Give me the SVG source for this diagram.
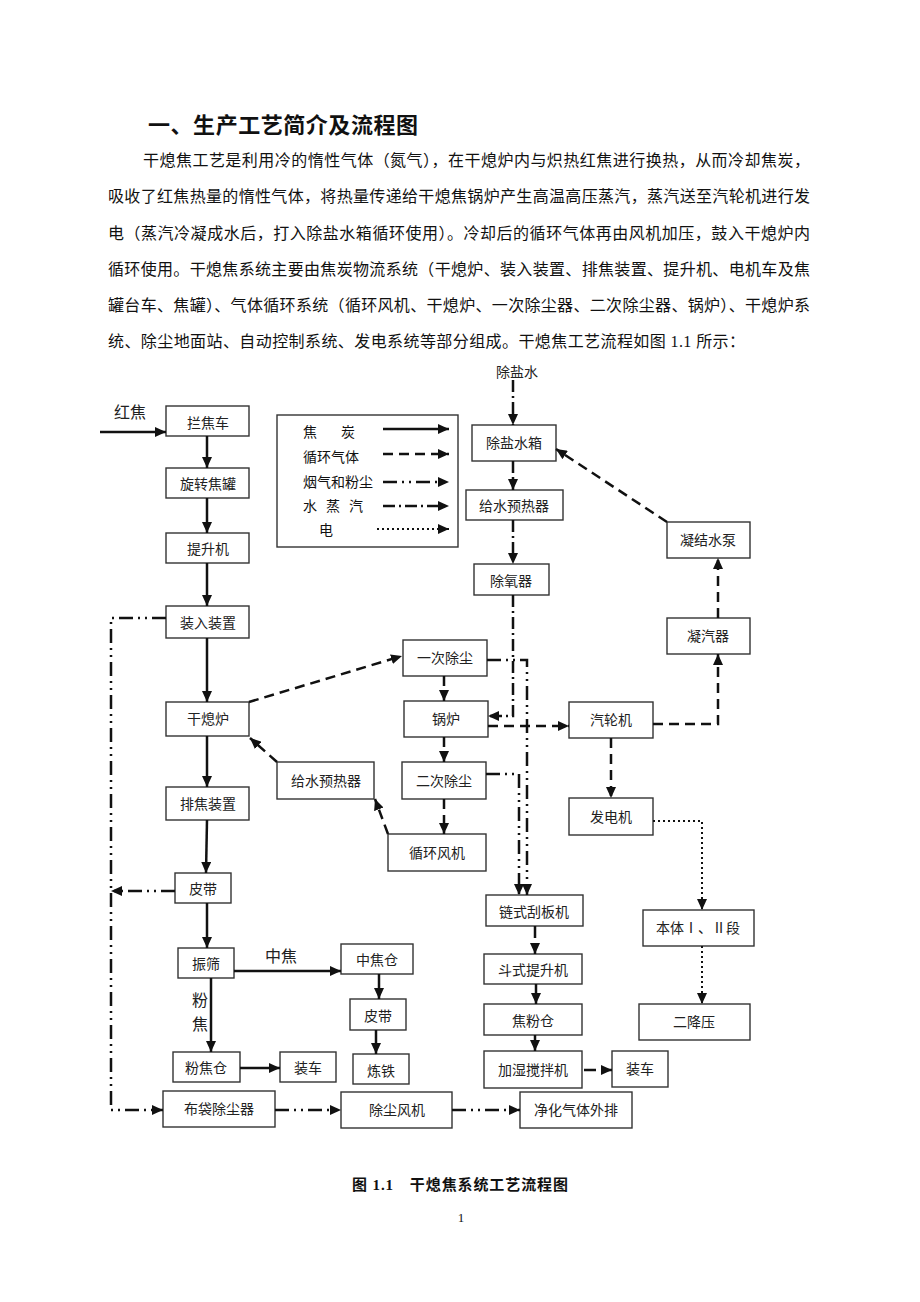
<svg xmlns="http://www.w3.org/2000/svg" width="920" height="1302" viewBox="0 0 920 1302">
<style>
.bg{fill:#fff}
.t{font-family:"Liberation Serif","Noto Sans CJK SC",serif;fill:#111}
.p{font-size:16px}
.n rect{fill:#fff;stroke:#333;stroke-width:1.4}
.n text{font-family:"Liberation Serif","Noto Sans CJK SC",serif;font-size:14px;fill:#222;text-anchor:middle;dominant-baseline:central}
.lb{font-family:"Liberation Serif","Noto Sans CJK SC",serif;font-size:14px;fill:#222;text-anchor:middle;dominant-baseline:central}
.c path{fill:none;stroke:#111;stroke-width:2.5}
.solid{marker-end:url(#ah)}
.dash{stroke-dasharray:10 6;marker-end:url(#ah)}
.dd{stroke-dasharray:14 5 2 5 2 5;marker-end:url(#ah)}
.dt{stroke-dasharray:12 4 2 4;marker-end:url(#ah)}
.el{stroke-dasharray:2 3;stroke-width:2!important;marker-end:url(#ah)}
</style>
<defs>
<marker id="ah" markerUnits="userSpaceOnUse" markerWidth="11" markerHeight="10" refX="11" refY="5" orient="auto">
<path d="M0,0 L11,5 L0,10 z" fill="#111"/>
</marker>
</defs>
<rect class="bg" x="0" y="0" width="920" height="1302"/>

<g id="text-body" class="t">
<text x="148" y="133" font-size="22" font-weight="bold" textLength="270" lengthAdjust="spacing">一、生产工艺简介及流程图</text>
<text class="p" x="143" y="166" textLength="667" lengthAdjust="spacing">干熄焦工艺是利用冷的惰性气体（氮气），在干熄炉内与炽热红焦进行换热，从而冷却焦炭，</text>
<text class="p" x="108" y="202" textLength="702" lengthAdjust="spacing">吸收了红焦热量的惰性气体，将热量传递给干熄焦锅炉产生高温高压蒸汽，蒸汽送至汽轮机进行发</text>
<text class="p" x="108" y="239" textLength="702" lengthAdjust="spacing">电（蒸汽冷凝成水后，打入除盐水箱循环使用）。冷却后的循环气体再由风机加压，鼓入干熄炉内</text>
<text class="p" x="108" y="275" textLength="702" lengthAdjust="spacing">循环使用。干熄焦系统主要由焦炭物流系统（干熄炉、装入装置、排焦装置、提升机、电机车及焦</text>
<text class="p" x="108" y="311" textLength="702" lengthAdjust="spacing">罐台车、焦罐）、气体循环系统（循环风机、干熄炉、一次除尘器、二次除尘器、锅炉）、干熄炉系</text>
<text class="p" x="108" y="347" textLength="637" lengthAdjust="spacing">统、除尘地面站、自动控制系统、发电系统等部分组成。干熄焦工艺流程如图 1.1 所示：</text>
<text x="460" y="1190" font-size="15" font-weight="bold" text-anchor="middle" textLength="216" lengthAdjust="spacing">图 1.1　干熄焦系统工艺流程图</text>
<text x="461" y="1222" font-size="13" text-anchor="middle">1</text>
</g>

<g id="legend">
<rect x="277" y="415" width="181" height="132" fill="none" stroke="#333" stroke-width="1.4"/>
<g class="t" font-size="14">
<text y="437"><tspan x="303">焦</tspan><tspan x="341">炭</tspan></text>
<text x="303" y="462">循环气体</text>
<text x="303" y="487">烟气和粉尘</text>
<text y="511"><tspan x="303">水</tspan><tspan x="326">蒸</tspan><tspan x="349">汽</tspan></text>
<text x="319" y="535">电</text>
</g>
<g class="c">
<path class="solid" d="M383,429 L449,429"/>
<path class="dash" d="M383,454 L449,454"/>
<path class="dd" d="M383,482 L449,482"/>
<path class="dt" d="M383,506 L449,506"/>
<path class="el" d="M377,529 L449,529"/>
</g>
</g>

<g id="labels">
<text class="lb" x="130" y="412" style="font-size:16px">红焦</text>
<text class="lb" x="517" y="372">除盐水</text>
<text class="lb" x="281" y="956" style="font-size:16px">中焦</text>
<text class="lb" x="200" y="1000" style="font-size:16px">粉</text>
<text class="lb" x="200" y="1024" style="font-size:16px">焦</text>
</g>

<g id="n-lanjiaoche" class="n"><rect x="166" y="406" width="83" height="30"/><text x="208" y="423">拦焦车</text></g>
<g id="n-xuanzhuan" class="n"><rect x="166" y="468" width="83" height="30"/><text x="208" y="484">旋转焦罐</text></g>
<g id="n-tishengji" class="n"><rect x="166" y="533" width="83" height="30"/><text x="208" y="549">提升机</text></g>
<g id="n-zhuangru" class="n"><rect x="166" y="606" width="83" height="32"/><text x="208" y="623">装入装置</text></g>
<g id="n-ganxilu" class="n"><rect x="166" y="702" width="83" height="34"/><text x="208" y="719">干熄炉</text></g>
<g id="n-paijiao" class="n"><rect x="166" y="787" width="83" height="33"/><text x="208" y="804">排焦装置</text></g>
<g id="n-pidai1" class="n"><rect x="175" y="873" width="56" height="30"/><text x="203" y="889">皮带</text></g>
<g id="n-zhenshai" class="n"><rect x="178" y="948" width="56" height="30"/><text x="206" y="964">振筛</text></g>
<g id="n-zhongjiaocang" class="n"><rect x="341" y="944" width="72" height="30"/><text x="377" y="960">中焦仓</text></g>
<g id="n-pidai2" class="n"><rect x="350" y="999" width="56" height="31"/><text x="378" y="1016">皮带</text></g>
<g id="n-liantie" class="n"><rect x="353" y="1054" width="56" height="30"/><text x="381" y="1071">炼铁</text></g>
<g id="n-fenjiaocang" class="n"><rect x="173" y="1052" width="67" height="30"/><text x="206" y="1068">粉焦仓</text></g>
<g id="n-zhuangche1" class="n"><rect x="280" y="1052" width="56" height="30"/><text x="308" y="1068">装车</text></g>
<g id="n-budai" class="n"><rect x="163" y="1091" width="112" height="36"/><text x="219" y="1109">布袋除尘器</text></g>
<g id="n-chuchenfengji" class="n"><rect x="341" y="1092" width="111" height="36"/><text x="397" y="1110">除尘风机</text></g>
<g id="n-jinghua" class="n"><rect x="520" y="1092" width="112" height="36"/><text x="576" y="1110">净化气体外排</text></g>
<g id="n-geishui2" class="n"><rect x="277" y="762" width="97" height="37"/><text x="326" y="781">给水预热器</text></g>
<g id="n-yici" class="n"><rect x="403" y="640" width="84" height="36"/><text x="445" y="658">一次除尘</text></g>
<g id="n-guolu" class="n"><rect x="404" y="701" width="84" height="36"/><text x="446" y="719">锅炉</text></g>
<g id="n-erci" class="n"><rect x="402" y="762" width="84" height="37"/><text x="444" y="781">二次除尘</text></g>
<g id="n-xunhuan" class="n"><rect x="388" y="834" width="98" height="37"/><text x="437" y="853">循环风机</text></g>
<g id="n-chuyanshuixiang" class="n"><rect x="472" y="425" width="84" height="36"/><text x="514" y="443">除盐水箱</text></g>
<g id="n-geishui1" class="n"><rect x="466" y="490" width="97" height="30"/><text x="514" y="506">给水预热器</text></g>
<g id="n-chuyangqi" class="n"><rect x="474" y="564" width="75" height="31"/><text x="511" y="581">除氧器</text></g>
<g id="n-ningjie" class="n"><rect x="667" y="522" width="83" height="36"/><text x="708" y="540">凝结水泵</text></g>
<g id="n-ningqi" class="n"><rect x="667" y="618" width="83" height="36"/><text x="708" y="636">凝汽器</text></g>
<g id="n-qilunji" class="n"><rect x="569" y="702" width="84" height="36"/><text x="611" y="720">汽轮机</text></g>
<g id="n-fadianji" class="n"><rect x="569" y="798" width="84" height="37"/><text x="611" y="817">发电机</text></g>
<g id="n-benti" class="n"><rect x="643" y="910" width="111" height="36"/><text x="698" y="928">本体Ⅰ、Ⅱ段</text></g>
<g id="n-erjiangya" class="n"><rect x="639" y="1004" width="111" height="36"/><text x="694" y="1022">二降压</text></g>
<g id="n-lianshi" class="n"><rect x="486" y="895" width="97" height="31"/><text x="534" y="912">链式刮板机</text></g>
<g id="n-doushi" class="n"><rect x="484" y="954" width="98" height="30"/><text x="533" y="970">斗式提升机</text></g>
<g id="n-jiaofencang" class="n"><rect x="484" y="1004" width="98" height="31"/><text x="533" y="1021">焦粉仓</text></g>
<g id="n-jiashi" class="n"><rect x="484" y="1051" width="98" height="37"/><text x="533" y="1070">加湿搅拌机</text></g>
<g id="n-zhuangche2" class="n"><rect x="612" y="1051" width="56" height="36"/><text x="640" y="1069">装车</text></g>

<g id="connectors" class="c">
<path class="solid" d="M100,432 L166,432"/>
<path class="solid" d="M207,436 L207,468"/>
<path class="solid" d="M207,498 L207,533"/>
<path class="solid" d="M207,563 L207,606"/>
<path class="solid" d="M207,638 L207,702"/>
<path class="solid" d="M207,736 L207,787"/>
<path class="solid" d="M207,820 L206,873"/>
<path class="solid" d="M207,903 L207,948"/>
<path class="solid" d="M234,971 L341,971"/>
<path class="solid" d="M211,978 L211,1052"/>
<path class="solid" d="M240,1068 L280,1068"/>
<path class="solid" d="M379,974 L379,999"/>
<path class="solid" d="M376,1030 L376,1054"/>
<path class="solid" style="stroke-dasharray:12 8" d="M535,926 L535,954"/>
<path class="solid" d="M536,984 L536,1004"/>
<path class="solid" d="M535,1035 L535,1051"/>
<path class="solid" style="stroke-dasharray:12 6" d="M584,1070 L612,1070"/>
<path class="dash" d="M249,702 L402,656"/>
<path class="dash" d="M444,676 L444,701"/>
<path class="dash" d="M444,737 L444,762"/>
<path class="dash" d="M444,799 L444,834"/>
<path class="dash" d="M388,834 L375,799"/>
<path class="dash" d="M277,762 L250,738"/>
<path class="dash" d="M488,726 L569,726"/>
<path class="dash" d="M653,724 L718,724 L718,654"/>
<path class="dash" d="M718,618 L718,558"/>
<path class="dash" d="M667,522 L556,449"/>
<path class="dash" d="M611,738 L611,798"/>
<path class="dt" d="M513,380 L513,425"/>
<path class="dt" d="M513,461 L513,490"/>
<path class="dt" d="M513,520 L513,564"/>
<path class="dt" d="M513,595 L513,716 L488,716"/>
<path class="dd" d="M166,618 L111,618 L111,1110 L163,1110"/>
<path class="dd" d="M175,891 L111,891"/>
<path class="dd" d="M487,660 L527,660 L527,895"/>
<path class="dd" d="M486,774 L519,774 L519,895"/>
<path class="dd" d="M275,1110 L341,1110"/>
<path class="dd" d="M452,1110 L520,1110"/>
<path class="el" d="M653,821 L702,821 L702,910"/>
<path class="el" d="M702,946 L702,1004"/>
</g>
</svg>
